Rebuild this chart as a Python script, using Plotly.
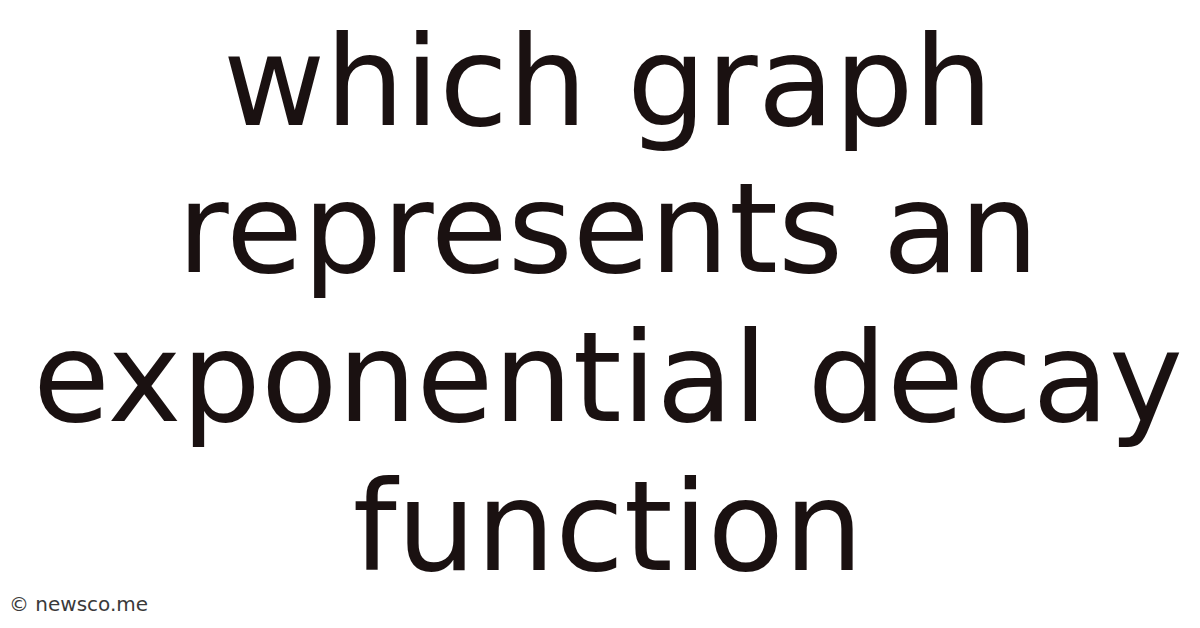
import plotly.graph_objects as go

lines = ["which graph", "represents an", "exponential decay", "function"]
watermark = "\u00a9 newsco.me"

W, H = 1200, 628
FONT_SIZE = 125
# text anchor points in pixels (y measured from the top)
line_x = [600, 600, 600, 600]
line_y = [86, 233, 382, 531]

fig = go.Figure()

fig.add_trace(go.Scatter(
    x=line_x,
    y=line_y,
    mode="text",
    text=lines,
    textposition="middle center",
    textfont=dict(family="DejaVu Sans", size=FONT_SIZE, color="#1a1111"),
    hoverinfo="skip",
))

fig.add_annotation(
    text=watermark,
    x=0, y=1 - 596 / H,
    xref="paper", yref="paper",
    xanchor="left", yanchor="middle",
    showarrow=False,
    borderpad=0,
    font=dict(family="DejaVu Sans", size=20, color="#3a3a3a"),
)

fig.update_layout(
    width=W, height=H,
    margin=dict(l=0, r=0, t=0, b=0),
    paper_bgcolor="white",
    plot_bgcolor="white",
    xaxis=dict(visible=False, range=[0, W], fixedrange=True),
    yaxis=dict(visible=False, range=[H, 0], fixedrange=True),
    showlegend=False,
)

fig.write_html("out.html")
